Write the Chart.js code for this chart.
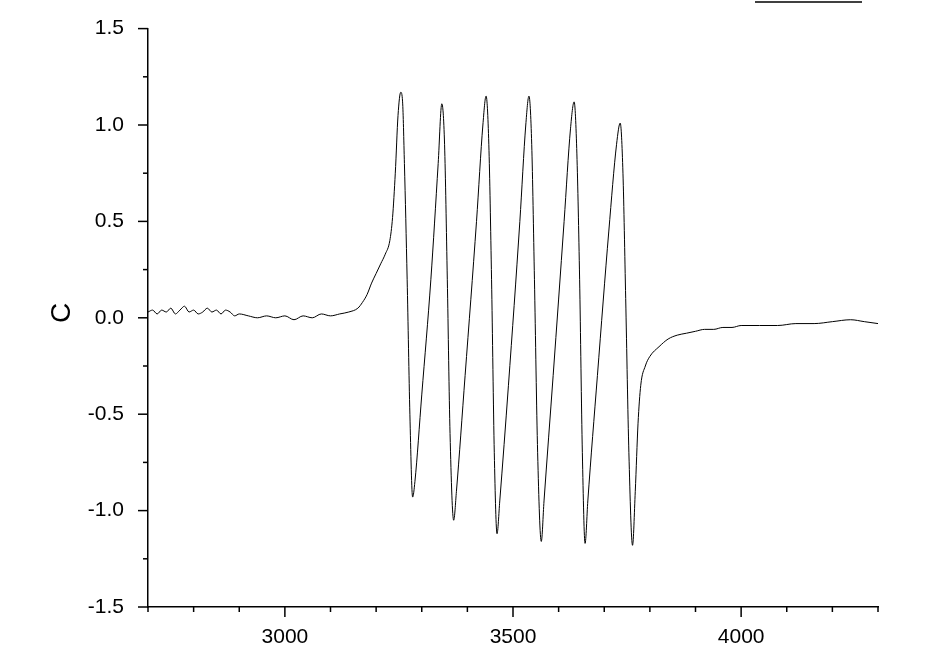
<!DOCTYPE html>
<html>
<head>
<meta charset="utf-8">
<script src="https://cdn.jsdelivr.net/npm/chart.js@4/dist/chart.umd.min.js"></script>
<style>
  html, body { margin: 0; padding: 0; background: #fff; }
  #wrap { width: 942px; height: 659px; }
</style>
</head>
<body>
<div id="wrap"><canvas id="epr"></canvas></div>
<script>
// field values (x) and signal (y)
const fieldX = [2700,2710,2720,2730,2740,2750,2760,2770,2780,2790,2800,2810,2820,2830,2840,2850,2860,2870,2880,2890,
  2900,2920,2940,2960,2980,3000,3020,3040,3060,3080,3100,3120,3140,3160,3170,3180,3190,3200,3210,3220,3230,
  3236,3242,3248,3254,3258,3262,3268,3274,3280,3285,3300,3320,3336,3344,3350,3356,3362,3370,3376,3395,3420,
  3434,3441,3447,3453,3459,3465,3471,3490,3515,3528,3535,3541,3547,3554,3562,3568,3588,3612,3626,3634,3640,
  3646,3652,3658,3664,3685,3710,3727,3735,3741,3747,3754,3762,3768,3774,3780,3790,3800,3820,3840,3860,3880,
  3900,3920,3940,3960,3980,4000,4040,4080,4120,4160,4200,4240,4270,4300];
const signalC = [0.03,0.04,0.02,0.04,0.03,0.05,0.02,0.04,0.06,0.03,0.04,0.02,0.03,0.05,0.03,0.04,0.02,0.04,0.03,0.01,
  0.02,0.01,0.00,0.01,0.00,0.01,-0.01,0.01,0.00,0.02,0.01,0.02,0.03,0.05,0.08,0.12,0.18,0.23,0.28,0.33,0.40,
  0.52,0.75,1.05,1.17,1.12,0.80,0.20,-0.50,-0.93,-0.85,-0.40,0.20,0.80,1.11,0.90,0.20,-0.60,-1.05,-0.90,-0.30,0.50,
  1.00,1.15,0.90,0.20,-0.70,-1.12,-0.95,-0.35,0.50,1.00,1.15,0.90,0.20,-0.70,-1.16,-0.95,-0.30,0.50,0.98,1.12,0.85,
  0.20,-0.70,-1.17,-0.95,-0.30,0.45,0.90,1.01,0.75,0.10,-0.70,-1.18,-0.90,-0.55,-0.35,-0.25,-0.20,-0.15,-0.11,-0.09,-0.08,
  -0.07,-0.06,-0.06,-0.05,-0.05,-0.04,-0.04,-0.04,-0.03,-0.03,-0.02,-0.01,-0.02,-0.03];
const xTickStep = 100, xLabelStep = 500;
const yTickStep = 0.25, yLabelStep = 0.5;

const points = fieldX.map((x, i) => ({ x: x, y: signalC[i] }));
const tickFont = { family: "'Liberation Sans', Arial", size: 21 };

const frame = {
  id: "frame",
  afterDraw(chart) {
    const c = chart.ctx, xs = chart.scales.x, ys = chart.scales.y, a = chart.chartArea;
    c.save();
    c.strokeStyle = "#000";
    c.lineWidth = 1.5;
    for (let v = 2700; v <= 4300; v += xTickStep) {
      const px = xs.getPixelForValue(v);
      const len = v % xLabelStep === 0 ? 10 : 5;
      c.beginPath(); c.moveTo(px, a.bottom); c.lineTo(px, a.bottom + len); c.stroke();
    }
    for (let v = -1.5; v <= 1.5001; v += yTickStep) {
      const py = ys.getPixelForValue(v);
      const major = Math.abs(Math.round(v / yLabelStep) * yLabelStep - v) < 1e-6;
      const len = major ? 10 : 5;
      c.beginPath(); c.moveTo(a.left, py); c.lineTo(a.left - len, py); c.stroke();
    }
    // fragment of legend frame at the top
    c.beginPath(); c.moveTo(755, 2); c.lineTo(862, 2); c.stroke();
    // y title
    c.translate(62, 313);
    c.rotate(-Math.PI / 2);
    c.fillStyle = "#000";
    c.font = "28px 'Liberation Sans', Arial";
    c.textAlign = "center"; c.textBaseline = "middle";
    c.fillText("C", 0, 0);
    c.restore();
  }
};

new Chart(document.getElementById("epr"), {
  type: "scatter",
  data: {
    datasets: [{
      data: points,
      showLine: true,
      borderColor: "#000",
      borderWidth: 1,
      pointRadius: 0,
      cubicInterpolationMode: "monotone"
    }]
  },
  options: {
    responsive: true,
    maintainAspectRatio: false,
    animation: false,
    layout: { padding: { top: 14, right: 64, left: 0, bottom: 0 } },
    plugins: { legend: { display: false }, tooltip: { enabled: false } },
    scales: {
      x: {
        type: "linear", min: 2700, max: 4300,
        afterFit(s) { s.height = 52; },
        afterBuildTicks(s) { s.ticks = [3000, 3500, 4000].map(v => ({ value: v })); },
        grid: { display: false },
        border: { display: true, color: "#000", width: 1.5 },
        ticks: { color: "#000", font: tickFont, padding: 10, maxRotation: 0, callback: v => String(v) }
      },
      y: {
        min: -1.5, max: 1.5,
        afterFit(s) { s.width = 148; },
        afterBuildTicks(s) {
          const t = [];
          for (let v = -1.5; v <= 1.5001; v += yLabelStep) t.push({ value: Math.round(v * 10) / 10 });
          s.ticks = t;
        },
        grid: { display: false },
        border: { display: true, color: "#000", width: 1.5 },
        ticks: { color: "#000", font: tickFont, padding: 16, callback: v => v.toFixed(1) }
      }
    }
  },
  plugins: [frame]
});
</script>
</body>
</html>
